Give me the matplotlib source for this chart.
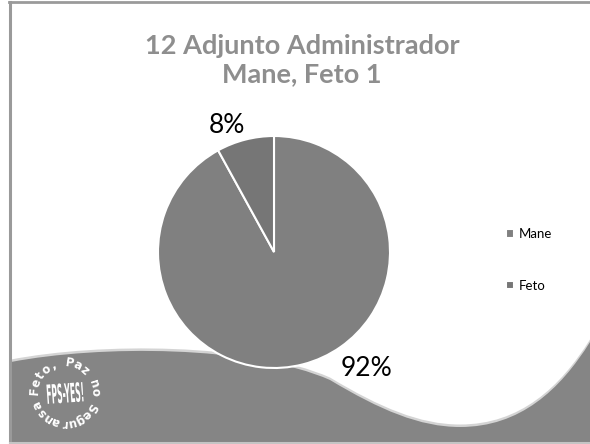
import numpy as np
import matplotlib
matplotlib.use("Agg")
import matplotlib.pyplot as plt
from matplotlib.path import Path
from matplotlib.patches import PathPatch
from matplotlib.textpath import TextPath
from matplotlib.font_manager import FontProperties
from matplotlib.transforms import Affine2D

# chart data
title = "12 Adjunto Administrador\nMane, Feto 1"
labels = ["Mane", "Feto"]
shares = [92, 8]
colors = ["#808080", "#767676"]
logo_ring = "Feto, Paz no Seguransa"
logo_mid = "FPS-YES!"

W, H = 590, 444
fig = plt.figure(figsize=(W / 100, H / 100), dpi=100)
fig.patch.set_facecolor("white")
plt.rcParams["font.family"] = ["Lato", "DejaVu Sans"]

# background layer in pixel coordinates
bg = fig.add_axes([0, 0, 1, 1])
bg.set_xlim(0, W)
bg.set_ylim(H, 0)
bg.axis("off")


def wave(dy):
    verts = [(11, 362 + dy),
             (100, 345 + dy), (250, 345 + dy), (330, 380 + dy),
             (380, 410 + dy), (420, 427 + dy), (460, 427 + dy),
             (520, 427 + dy), (560, 390 + dy), (590, 342 + dy),
             (590, 444), (11, 444), (11, 362 + dy)]
    codes = [Path.MOVETO] + [Path.CURVE4] * 9 + [Path.LINETO] * 2 + [Path.CLOSEPOLY]
    return Path(verts, codes)


bg.add_patch(PathPatch(wave(-2.5), facecolor="#d4d4d4", edgecolor="none"))
bg.add_patch(PathPatch(wave(0), facecolor="#858585", edgecolor="none"))

# frame lines
bg.plot([9, W], [2.5, 2.5], color="#9a9a9a", lw=2)
bg.plot([10, 10], [2, H], color="#9a9a9a", lw=2.2)
bg.plot([10, W], [442.5, 442.5], color="#c4c4c4", lw=1.5)

# round logo
cx, cy, r = 65, 393, 30
n = len(logo_ring)
angles = np.linspace(176, 176 - 332, n)
for ch, th in zip(logo_ring, angles):
    t = np.deg2rad(th)
    bg.text(cx + r * np.cos(t), cy - r * np.sin(t), ch, color="white",
            fontsize=8.5, fontweight="bold", ha="center", va="center",
            rotation=th - 90, family=["DejaVu Sans"])

# tall narrow centre lettering
tp = TextPath((0, 0), logo_mid, size=10, prop=FontProperties(family="DejaVu Sans", weight="bold"))
ext = tp.get_extents()
sx = 36 / ext.width
sy = 20 / ext.height
tr = (Affine2D().translate(-ext.x0 - ext.width / 2, -ext.y0 - ext.height / 2)
      .scale(sx, -sy).rotate_deg(-4).translate(cx, cy) + bg.transData)
bg.add_patch(PathPatch(tp, facecolor="white", edgecolor="none", transform=tr))

# title
fig.text(302 / W, 1 - 60 / H, title, ha="center", va="center", fontsize=19.5,
         fontweight="bold", color="#8e8e8e", linespacing=1.2)

# pie
R = 116
pcx, pcy = 274, 252
span = 1.45
size = 2 * R * span
ax = fig.add_axes([(pcx - size / 2) / W, (H - pcy - size / 2) / H, size / W, size / H])
wedges, _ = ax.pie(shares, colors=colors, startangle=90, counterclock=False,
                   wedgeprops=dict(edgecolor="white", linewidth=1.5))
ax.set_xlim(-span, span)
ax.set_ylim(-span, span)
ax.set_aspect("equal")
ax.axis("off")

# data labels, best-fit style
for w, val, shift, dist in zip(wedges, shares, [24, 6], [1.28, 1.16]):
    mid = np.deg2rad((w.theta1 + w.theta2) / 2 + shift)
    ax.text(dist * np.cos(mid), dist * np.sin(mid), f"{val}%", ha="center",
            va="center", fontsize=19, color="black")

fig.legend(wedges, labels, loc="center left", bbox_to_anchor=(494 / W, 1 - 260 / H),
           frameon=False, fontsize=9.5, handlelength=0.6, handleheight=0.6,
           handletextpad=0.4, labelspacing=3.0)

fig.savefig("out.png", dpi=100)
